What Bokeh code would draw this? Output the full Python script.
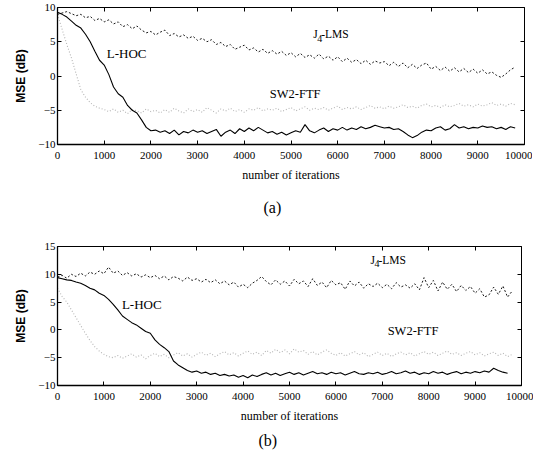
from bokeh.plotting import figure
from bokeh.layouts import column
from bokeh.models import Range1d, FixedTicker, LinearAxis, Label, Title, CustomJSTickFormatter
from bokeh.embed import file_html
from bokeh.resources import INLINE

STEP = 100  # iteration spacing of the samples

x_ticks = [0, 1000, 2000, 3000, 4000, 5000, 6000, 7000, 8000, 9000, 10000]
y_ticks_a = [-10, -5, 0, 5, 10]
y_ticks_b = [-10, -5, 0, 5, 10, 15]

# ---------- panel (a) ----------
lhoc_a = [9.3, 9.0, 8.6, 8.0, 7.4, 7.0, 6.1, 5.0, 3.6, 2.3,
          1.6, 0.2, -1.6, -2.6, -3.1, -4.3, -5.0, -5.4, -6.4, -7.5,
          -8.0, -7.9, -8.2, -8.0, -8.4, -7.9, -8.6, -8.1, -8.3, -7.9,
          -8.2, -8.0, -8.4, -8.1, -7.8, -8.8, -8.2, -7.9, -8.4, -7.7,
          -8.1, -7.6, -8.0, -7.5, -7.9, -8.3, -8.1, -8.5, -8.2, -8.6,
          -8.3, -8.0, -8.2, -7.1, -8.0, -8.3, -7.9, -7.6, -8.1, -7.7,
          -7.9, -7.5, -7.9, -7.6, -7.8, -7.4, -7.7, -7.5, -7.2, -7.4,
          -7.6, -7.5, -7.8, -7.7, -8.1, -8.6, -9.0, -8.7, -8.2, -7.9,
          -8.0, -7.6, -7.4, -7.9, -7.7, -7.1, -7.6, -7.4, -7.7, -7.5,
          -7.6, -7.3, -7.5, -7.4, -7.7, -7.5, -7.8, -7.4, -7.6]
j4_a = [9.0, 9.2, 9.4, 9.1, 8.8, 9.0, 8.5, 8.7, 8.1, 8.4,
        7.9, 8.2, 7.6, 7.9, 7.2, 7.5, 6.9, 7.3, 6.7, 6.3,
        6.5, 6.0, 6.4, 6.7, 5.9, 6.2, 5.7, 6.0, 5.5, 5.8,
        5.2, 5.5, 5.0, 5.3, 4.6, 4.9, 4.3, 4.6, 3.9, 4.2,
        4.5, 3.8, 4.1, 3.5, 3.9, 3.3, 3.7, 3.2, 3.6, 3.0,
        3.4, 2.8, 3.3, 2.7, 3.1, 2.6, 3.2, 2.5, 2.9, 2.3,
        2.8, 2.1, 2.6, 2.0, 2.4, 1.8, 2.3, 1.7, 2.2, 1.9,
        2.1, 1.5, 2.0, 1.4, 1.9, 1.2, 1.7, 1.1, 1.6, 1.9,
        1.0, 1.4, 0.8, 1.3, 0.7, 1.2, 0.6, 1.1, 0.5, 1.0,
        0.4, 0.9, 0.3, 0.6, 0.1, -0.2, 0.3, 0.9, 1.3]
sw2_a = [9.0, 6.8, 4.6, 2.6, 0.3, -2.0, -3.1, -3.9, -4.4, -4.7,
         -4.9, -5.2, -4.8, -5.3, -5.0, -5.5, -4.9, -5.1, -5.4, -4.8,
         -5.2, -5.0, -5.4, -4.9, -5.3, -4.7, -5.1, -5.4, -4.8, -5.2,
         -4.9, -5.3, -4.6, -5.0, -5.4, -4.8, -5.1, -4.7, -5.2, -4.9,
         -5.3, -4.8, -5.0, -4.6, -5.1, -4.8, -5.0, -4.7, -5.2, -4.9,
         -4.6, -5.1, -4.8, -4.5, -5.0, -4.7, -4.9, -4.6, -5.0, -4.7,
         -4.4, -4.9, -4.6, -4.8, -4.5, -4.9, -4.6, -4.3, -4.7, -4.5,
         -4.8, -4.4, -4.7, -4.5, -4.2, -4.6, -4.4, -4.7, -4.3, -4.1,
         -4.5, -4.3, -4.6, -4.2, -4.5, -4.3, -4.0, -4.4, -4.2, -4.5,
         -4.1, -4.4, -4.2, -3.9, -4.3, -4.1, -4.4, -4.0, -4.2]

# ---------- panel (b) ----------
lhoc_b = [9.4, 9.2, 9.0, 8.9, 8.6, 8.4, 8.0, 7.5, 7.2, 6.6,
          6.2, 5.5, 4.6, 3.6, 2.5, 1.9, 1.3, 0.9, 0.3, -0.3,
          -0.6, -1.8, -2.6, -3.2, -3.9, -5.6, -6.3, -6.8, -7.3, -7.6,
          -7.4, -7.8, -7.6, -8.0, -7.8, -8.2, -8.0, -8.3, -8.1, -8.5,
          -8.2, -8.6, -8.1, -8.4, -8.0, -7.7, -8.1, -7.8, -8.2, -7.9,
          -7.6, -8.0, -7.7, -8.1, -7.8, -7.5, -7.9, -7.7, -8.0, -7.6,
          -7.9, -7.7, -8.1, -7.8, -7.5, -7.9, -8.0, -7.7, -7.9, -7.6,
          -8.0, -7.8, -7.5, -7.9, -7.7, -7.4, -7.8, -7.6, -8.0, -7.7,
          -7.9, -7.5, -7.8, -7.6, -8.0, -7.7, -7.5, -7.9, -7.6, -7.8,
          -7.5, -7.7, -7.4, -7.6, -6.9, -7.3, -7.6, -7.8]
j4_b = [9.5, 9.8, 9.3, 10.0, 9.6, 10.2, 9.7, 10.4, 10.0, 10.6,
        10.1, 11.3, 10.2, 10.6, 9.8, 10.3, 9.7, 10.1, 9.5, 9.9,
        9.4, 9.8, 9.2, 9.7, 9.0, 9.6, 9.3, 8.8, 9.5, 8.9,
        9.2, 8.6, 9.1, 8.5, 9.0, 8.3, 8.8, 8.1, 8.6, 7.7,
        8.2, 7.6, 8.4, 8.9, 9.6, 8.7, 8.1, 9.0, 8.2, 8.8,
        7.9, 9.1, 8.3, 8.8, 7.8, 9.2, 8.0, 8.6, 7.6, 8.9,
        8.1, 8.5, 7.3, 8.8, 7.9, 8.6, 7.5, 8.3, 7.8, 8.4,
        7.6, 8.2, 7.4, 8.5, 7.7, 8.1, 7.5, 8.3, 7.2, 9.4,
        7.6, 8.9, 7.0, 8.6, 7.3, 8.2, 6.9, 8.0, 7.1, 7.8,
        6.6, 7.4, 5.9, 6.3, 7.7, 6.4, 7.9, 5.9, 7.0]
sw2_b = [7.5, 6.0, 5.0, 3.6, 2.2, 0.8, -0.6, -1.9, -3.0, -3.8,
         -4.4, -4.8, -5.0, -4.6, -5.1, -4.7, -4.3, -4.9, -4.5, -5.2,
         -4.6, -4.2, -4.8, -4.4, -5.0, -4.5, -4.1, -4.7, -4.3, -4.9,
         -4.4, -4.0, -4.6, -4.2, -4.8, -4.3, -3.9, -4.5, -4.1, -4.7,
         -4.2, -3.8, -4.4, -4.0, -4.6, -3.7, -4.2, -3.5, -4.1, -3.6,
         -4.3, -3.4, -4.0, -3.7, -4.4, -3.9, -4.5, -4.0, -3.6, -4.2,
         -4.6, -4.1, -4.7, -4.3, -3.9, -4.5, -4.1, -4.8, -4.4, -4.0,
         -4.6, -4.2, -4.8, -4.3, -4.0, -4.5, -4.1, -4.7, -4.3, -3.9,
         -4.4, -4.0, -4.6, -4.2, -3.8, -4.4, -4.1, -4.6, -4.2, -3.9,
         -4.5, -4.1, -4.7, -4.3, -4.0, -4.6, -4.2, -4.8, -4.4]

SERIF = "Liberation Serif"
SANS = "Liberation Sans"


def xs(vals):
    return [i * STEP for i in range(len(vals))]


def make_panel(y_range, yticks, lhoc, j4, sw2, frame, borders, tag, tag_offset, tag_standoff,
               lab_lhoc, lab_j4, lab_sw2):
    bt, br, bb, bl = borders
    fw, fh = frame
    p = figure(frame_width=fw, frame_height=fh, output_backend="svg", toolbar_location=None,
               x_range=Range1d(0, 10000), y_range=Range1d(*y_range),
               min_border_top=bt, min_border_right=br, min_border_bottom=bb,
               min_border_left=bl)
    p.background_fill_color = "white"
    p.border_fill_color = "white"
    p.outline_line_color = "black"
    p.outline_line_width = 1
    p.xgrid.visible = False
    p.ygrid.visible = False

    for ax in (p.xaxis[0], p.yaxis[0]):
        ax.major_tick_in = 4
        ax.major_tick_out = 0
        ax.minor_tick_line_color = None
        ax.axis_line_color = "black"
        ax.axis_line_width = 1.3
        ax.major_label_text_font = SERIF
        ax.major_label_text_font_size = "11px"
        ax.major_label_text_color = "black"
        ax.axis_label_text_color = "black"
    p.xaxis.ticker = FixedTicker(ticks=x_ticks)
    p.yaxis.ticker = FixedTicker(ticks=yticks)
    p.xaxis.major_label_standoff = 7
    p.yaxis.major_label_standoff = 2
    p.xaxis.axis_label = "number of iterations"
    p.xaxis.axis_label_text_font = SERIF
    p.xaxis.axis_label_text_font_size = "12px"
    p.xaxis.axis_label_text_font_style = "normal"
    p.xaxis.axis_label_standoff = 6
    p.yaxis.axis_label = "MSE (dB)"
    p.yaxis.axis_label_text_font = SANS
    p.yaxis.axis_label_text_font_size = "12px"
    p.yaxis.axis_label_text_font_style = "bold"
    p.yaxis.axis_label_standoff = 7

    # tick marks on the top and right edges of the frame (no labels)
    blank = CustomJSTickFormatter(code="return ''")
    top = LinearAxis(ticker=FixedTicker(ticks=x_ticks), major_tick_in=4, major_tick_out=0,
                     minor_tick_line_color=None, formatter=blank,
                     major_label_standoff=0, axis_line_color=None)
    right = LinearAxis(ticker=FixedTicker(ticks=yticks), major_tick_in=4, major_tick_out=0,
                       minor_tick_line_color=None, formatter=blank,
                       major_label_standoff=0, axis_line_color=None)
    p.add_layout(top, "above")
    p.add_layout(right, "right")

    p.line(xs(sw2), sw2, line_color="#b4b4b4", line_width=1.1, line_dash="1 2")
    p.line(xs(j4), j4, line_color="#1a1a1a", line_width=1, line_dash="2 2")
    p.line(xs(lhoc), lhoc, line_color="black", line_width=1.1)

    def lab(x, y, t, size="13px", dx=0, dy=0):
        p.add_layout(Label(x=x, y=y, text=t, x_offset=dx, y_offset=dy,
                           text_font=SERIF, text_font_size=size,
                           text_baseline="middle", text_align="left",
                           text_color="black"))

    lab(lab_lhoc[0], lab_lhoc[1], "L-HOC", size="13px")
    lab(lab_sw2[0], lab_sw2[1], "SW2-FTF", size="12.5px")
    lab(lab_j4[0], lab_j4[1], "J", size="11.5px")
    lab(lab_j4[0], lab_j4[1], "4", size="10px", dx=4, dy=-4)
    lab(lab_j4[0], lab_j4[1], "-LMS", size="11.5px", dx=8)

    p.add_layout(Title(text=tag, align="left", offset=tag_offset, standoff=tag_standoff,
                       text_font=SERIF, text_font_size="16px", text_font_style="normal",
                       text_color="black"), "below")
    return p


pa = make_panel((-10, 10), y_ticks_a, lhoc_a, j4_a, sw2_a,
                frame=(467, 137), borders=(7, 12, 90, 53),
                tag="(a)", tag_offset=206, tag_standoff=25,
                lab_lhoc=(1056, 3.3), lab_j4=(5474, 6.1), lab_sw2=(4547, -2.7))
pb = make_panel((-10, 15), y_ticks_b, lhoc_b, j4_b, sw2_b,
                frame=(464, 139), borders=(12, 12, 0, 57),
                tag="(b)", tag_offset=201, tag_standoff=8,
                lab_lhoc=(1388, 4.5), lab_j4=(6746, 12.6), lab_sw2=(7115, -0.2))

layout = column(pa, pb, spacing=0)
open("out.html", "w").write(file_html(layout, INLINE))
